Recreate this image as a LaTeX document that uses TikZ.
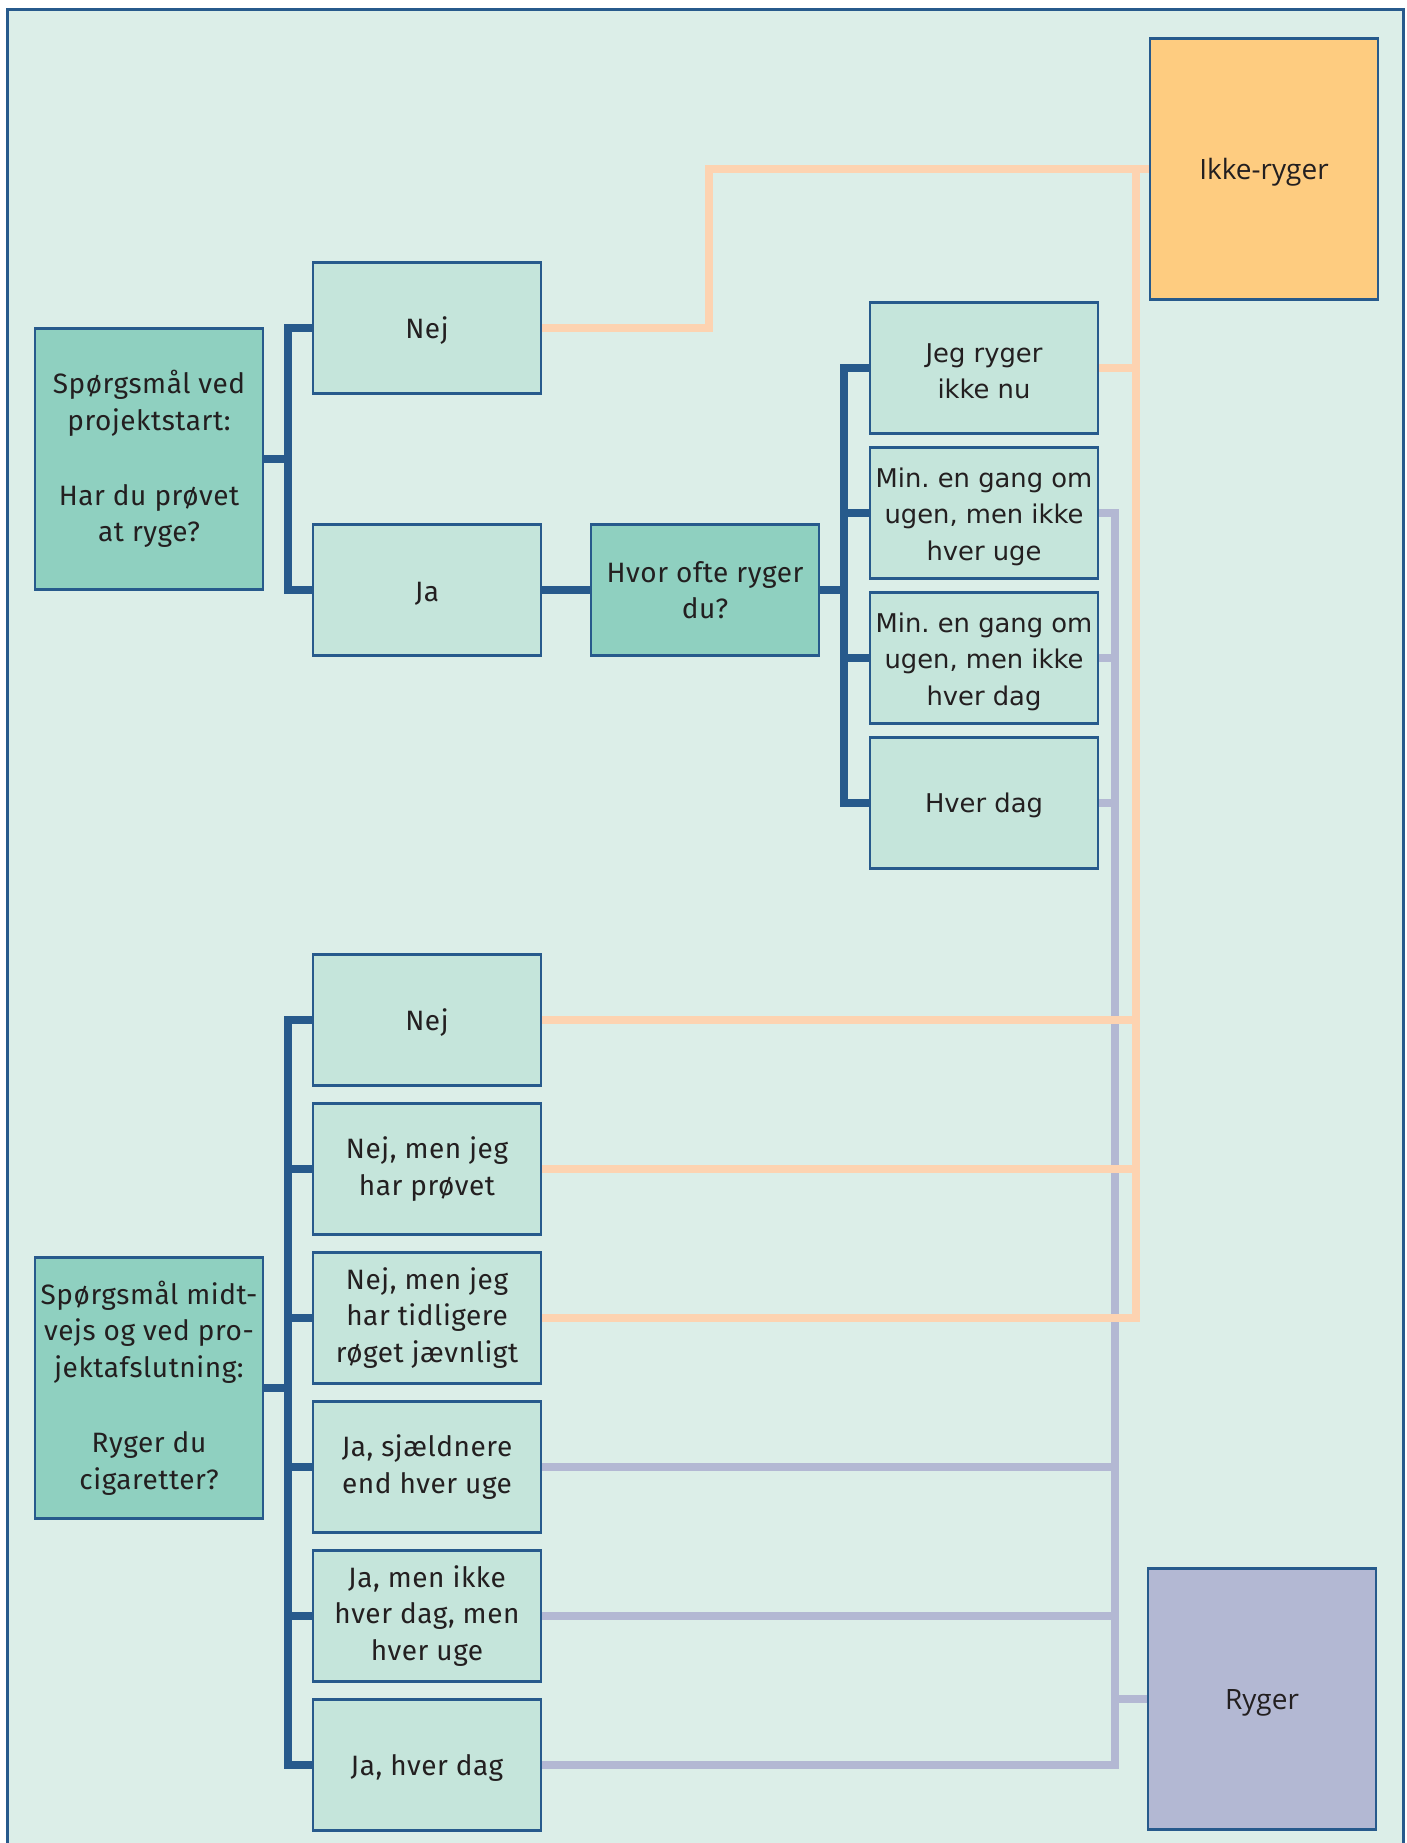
\documentclass[tikz,border=0pt]{standalone}
\usepackage{fontspec}
\setmainfont{Fira Sans}[LetterSpace=2]
\newfontfamily\dvfont{DejaVu Sans}
\newfontfamily\osfont{Open Sans}
\definecolor{bgc}{HTML}{DCEEE8}
\definecolor{ansc}{HTML}{C5E5DB}
\definecolor{qc}{HTML}{8FD0C0}
\definecolor{bord}{HTML}{275A8C}
\definecolor{ikkec}{HTML}{FECC80}
\definecolor{rygc}{HTML}{B3B8D3}
\definecolor{orc}{HTML}{FDD3B1}
\definecolor{txtc}{HTML}{231F20}
\pgfdeclarelayer{back}
\pgfdeclarelayer{lines}
\pgfsetlayers{back,lines,main}
\frenchspacing
\tikzset{
  box/.style={draw=bord, line width=1.25pt, inner sep=0pt, align=center,
    text=txtc, font=\fontsize{14}{18.2}\selectfont,
    execute at begin node={\rule{0pt}{13.6pt}}},
  ans/.style={box, fill=ansc, minimum width=114pt, minimum height=65.5pt},
  ansdv/.style={draw=bord, line width=1.25pt, fill=ansc, minimum width=114pt, minimum height=65.5pt, inner sep=0pt},
  dvtext/.style={inner sep=0pt, align=center, text=txtc, font=\dvfont\fontsize{12.9}{18.2}\selectfont},
  ques/.style={box, fill=qc, minimum width=114pt, minimum height=130.5pt},
  hvor/.style={box, fill=qc, minimum width=114pt, minimum height=65.5pt},
  res/.style={box, minimum width=114pt, minimum height=130.5pt, font=\osfont\fontsize{14}{18}\selectfont},
  brk/.style={draw=bord, line width=4pt, line join=miter},
  orl/.style={draw=orc, line width=4pt, line join=miter},
  lvl/.style={draw=rygc, line width=4pt, line join=miter},
}
\begin{document}
\begin{tikzpicture}[x=0.5pt, y=-0.5pt]
\useasboundingbox (0,0) rectangle (1407,1843);
\begin{pgfonlayer}{back}
\fill[white] (0,0) rectangle (1407,1843);
\draw[fill=bgc, draw=bord, line width=1.5pt] (7,9) rectangle (1403,1860);
\end{pgfonlayer}

% upper part
\node[ques] (q1) at (149,459) {Spørgsmål ved\\projektstart:\\[19.5pt]Har du prøvet\\at ryge?};
\node[ans] (nej1) at (427,328) {Nej};
\node[ans] (ja1) at (427,590) {Ja};
\node[hvor] (hvor) at (705,590) {Hvor ofte ryger\\du?};
\node[ansdv] (a1) at (984,368) {};
\node[ansdv] (a2) at (984,513) {};
\node[ansdv] (a3) at (984,658) {};
\node[ansdv] (a4) at (984,803) {};
\node[dvtext] (a1t) at ([yshift=-1.75pt]a1.center) {Jeg ryger\\ikke nu};
\node[dvtext] (a2t) at ([yshift=-1.75pt]a2.center) {Min. en gang om\\ugen, men ikke\\hver uge};
\node[dvtext] (a3t) at ([yshift=-1.75pt]a3.center) {Min. en gang om\\ugen, men ikke\\hver dag};
\node[dvtext] (a4t) at ([yshift=-1.2pt]a4.center) {Hver dag};
\node[res, fill=ikkec] (ikke) at (1264,169) {Ikke-ryger};

% lower part
\node[ques] (q2) at (149,1388) {Spørgsmål midt-\\vejs og ved pro-\\jektafslutning:\\[19.5pt]Ryger du\\cigaretter?};
\node[ans] (b1) at (427,1020) {Nej};
\node[ans] (b2) at (427,1169) {Nej, men jeg\\har prøvet};
\node[ans] (b3) at (427,1318) {Nej, men jeg\\har tidligere\\røget jævnligt};
\node[ans] (b4) at (427,1467) {Ja, sjældnere\\end hver uge};
\node[ans] (b5) at (427,1616) {Ja, men ikke\\hver dag, men\\hver uge};
\node[ans] (b6) at (427,1765) {Ja, hver dag};
\node[res, fill=rygc] (ryger) at (1262,1699) {Ryger};

\coordinate (bx1) at (288,0);
\coordinate (bx2) at (844,0);
\coordinate (ox) at (709,0);
\coordinate (ov) at (1136,0);
\coordinate (lv) at (1115,0);

\begin{pgfonlayer}{lines}
% lavender
\draw[lvl] (a2.east) -- (a2.east -| lv) -- (b6.east -| lv) -- (b6.east);
\draw[lvl] (a3.east) -- (a3.east -| lv);
\draw[lvl] (a4.east) -- (a4.east -| lv);
\draw[lvl] (b4.east) -- (b4.east -| lv);
\draw[lvl] (b5.east) -- (b5.east -| lv);
\draw[lvl] (ryger.west) -- (ryger.west -| lv);
% orange
\draw[orl] (nej1.east) -- (nej1.east -| ox) -- (ikke.west -| ox) -- (ikke.west);
\draw[orl] (ikke.west -| ov) -- (b3.east -| ov) -- (b3.east);
\draw[orl] (a1.east) -- (a1.east -| ov);
\draw[orl] (b1.east) -- (b1.east -| ov);
\draw[orl] (b2.east) -- (b2.east -| ov);
% brackets
\draw[brk] (q1.east) -- (q1.east -| bx1);
\draw[brk] (nej1.west) -- (nej1.west -| bx1) -- (ja1.west -| bx1) -- (ja1.west);
\draw[brk] (ja1.east) -- (hvor.west);
\draw[brk] (hvor.east) -- (hvor.east -| bx2);
\draw[brk] (a1.west) -- (a1.west -| bx2) -- (a4.west -| bx2) -- (a4.west);
\draw[brk] (a2.west) -- (a2.west -| bx2);
\draw[brk] (a3.west) -- (a3.west -| bx2);
\draw[brk] (q2.east) -- (q2.east -| bx1);
\draw[brk] (b1.west) -- (b1.west -| bx1) -- (b6.west -| bx1) -- (b6.west);
\draw[brk] (b2.west) -- (b2.west -| bx1);
\draw[brk] (b3.west) -- (b3.west -| bx1);
\draw[brk] (b4.west) -- (b4.west -| bx1);
\draw[brk] (b5.west) -- (b5.west -| bx1);
\end{pgfonlayer}
\end{tikzpicture}
\end{document}
